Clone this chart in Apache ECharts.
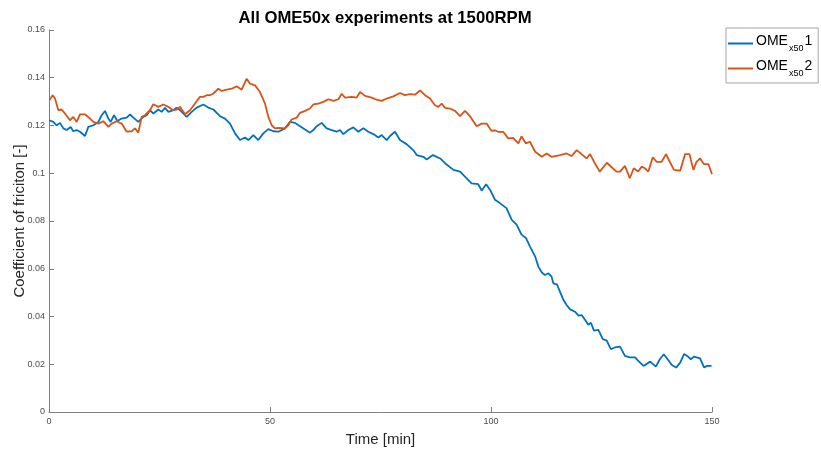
<!DOCTYPE html>
<html>
<head>
<meta charset="utf-8">
<script src="https://cdn.jsdelivr.net/npm/echarts@6/dist/echarts.min.js"></script>
<style>html,body{margin:0;padding:0;background:#fff}#c{width:821px;height:452px}</style>
</head>
<body>
<div id="c"></div>
<script>
const title = 'All OME50x experiments at 1500RPM';
const xName = 'Time [min]';
const yName = 'Coefficient of friciton [-]';
const seriesNames = ['OME1', 'OME2'];
const xTicks = [0, 50, 100, 150];
const yTicks = [0, 0.02, 0.04, 0.06, 0.08, 0.1, 0.12, 0.14, 0.16];

const time1 = [0.07,0.98,1.73,2.49,3.24,3.99,4.9,5.5,6.26,7.01,8.14,8.9,10.03,11.16,11.92,12.67,13.43,13.95,14.71,15.46,16.44,17.57,18.33,19.08,20.21,21.34,22.1,22.85,23.6,24.74,25.49,26.24,27.0,28.13,28.88,29.64,31.15,32.28,33.41,34.92,36.05,37.18,38.69,39.82,40.95,42.08,43.21,44.34,45.1,46.23,47.36,48.49,49.62,50.75,51.89,
53.39,54.52,55.66,56.79,57.92,59.05,59.8,60.56,61.69,62.82,63.95,65.08,65.84,66.59,67.72,68.85,69.98,71.12,72.25,73.38,74.51,75.26,76.4,77.15,78.28,79.41,
80.9,82.4,83.2,84.7,85.4,86.9,88.5,89.6,91.5,93.0,94.5,95.6,97.1,97.9,98.9,99.8,100.9,102.0,103.5,104.7,105.8,106.9,107.9,108.8,
110.0,110.7,111.5,112.2,113.0,113.7,114.1,114.9,115.6,116.4,117.1,117.9,119.0,119.8,120.5,121.3,122.0,122.6,123.3,124.3,125.3,126.2,127.1,128.1,129.2,130.3,131.4,132.6,133.1,134.5,136.0,137.3,138.2,139.1,140.1,140.9,141.9,142.8,143.7,144.4,145.2,145.9,147.3,148.2,148.9,149.9];
const cof1 = [0.1222,0.1215,0.1201,0.1211,0.1188,0.1181,0.1194,0.1176,0.1181,0.1174,0.1156,0.1194,0.1201,0.1215,0.1243,0.1261,0.1229,0.1215,0.1243,0.1219,0.1229,0.1233,0.1246,0.1233,0.1215,0.1236,0.1243,0.1264,0.125,0.1267,0.1257,0.1274,0.1257,0.1264,0.1275,0.1264,0.1236,0.1257,0.1275,0.1288,0.1275,0.1267,0.1239,0.1229,0.1208,0.1167,0.1139,0.115,0.1139,0.116,0.1139,0.1167,0.1185,0.1176,0.1174,
0.1188,0.1215,0.1211,0.1197,0.1183,0.117,0.1181,0.1197,0.1211,0.1188,0.1181,0.1174,0.1181,0.1164,0.1181,0.1192,0.1174,0.1188,0.1174,0.1164,0.115,0.116,0.1139,0.1156,0.1174,0.1139,
0.1122,0.1097,0.1076,0.1069,0.1058,0.1076,0.1062,0.1042,0.1014,0.1007,0.0979,0.0958,0.0954,0.0928,0.0954,0.093,0.0889,0.0875,0.0854,0.0805,0.0785,0.0743,0.0729,0.0694,
0.0651,0.0609,0.0584,0.0574,0.0581,0.0567,0.0539,0.0535,0.0504,0.0469,0.0448,0.043,0.042,0.0404,0.0406,0.0385,0.0365,0.0374,0.0341,0.0344,0.0305,0.0299,0.0263,0.0271,0.0274,0.0235,0.0229,0.0229,0.0218,0.0193,0.0211,0.019,0.0221,0.0242,0.0218,0.0197,0.0186,0.0207,0.0243,0.0235,0.0221,0.0232,0.0225,0.0187,0.0193,0.0193];

const time2 = [0.07,0.83,1.36,2.11,2.87,3.62,4.75,5.5,6.26,7.01,8.14,9.28,10.03,11.16,12.29,13.43,14.18,15.31,16.44,17.57,18.70,19.46,20.21,20.96,21.72,22.85,23.6,24.74,25.87,27.0,28.13,28.88,29.64,30.77,31.9,33.03,34.16,34.92,35.67,36.43,37.18,38.31,39.06,40.2,41.33,42.46,43.59,44.72,45.48,46.61,47.74,48.87,49.62,50.38,51.13,51.89,
53.4,54.15,54.9,56.03,56.79,57.92,59.05,59.8,60.94,62.07,63.2,64.33,65.46,66.22,66.97,68.48,69.61,70.37,71.5,73.0,74.13,75.27,76.4,77.9,79.41,80.54,81.67,82.8,83.94,85.07,86.2,87.33,88.08,88.84,89.59,90.72,91.86,92.99,94.12,95.25,96.76,97.9,
99.0,100.1,100.9,101.7,102.8,103.9,105.0,106.2,106.9,107.9,108.8,110.0,111.5,112.6,113.7,115.6,117.1,118.2,119.4,120.5,121.6,122.4,123.5,124.6,126.2,127.3,128.4,129.2,130.3,131.4,132.3,133.3,134.1,134.8,135.6,136.6,137.5,138.6,139.6,140.5,141.4,142.8,143.9,144.9,145.8,146.5,147.3,148.2,149.2,150.0];
const cof2 = [0.1306,0.1327,0.1313,0.1264,0.1267,0.125,0.1222,0.1236,0.1215,0.1247,0.1247,0.1229,0.1215,0.1208,0.1218,0.1194,0.1208,0.1218,0.1208,0.1174,0.1176,0.1188,0.117,0.1236,0.1243,0.1264,0.1289,0.1278,0.1288,0.1278,0.1264,0.1267,0.1278,0.1247,0.1264,0.1292,0.132,0.132,0.1327,0.1327,0.1334,0.1354,0.1345,0.135,0.1354,0.1364,0.135,0.1396,0.1375,0.1368,0.134,0.1292,0.1236,0.1201,0.1188,0.119,
0.1188,0.1201,0.1225,0.1233,0.1253,0.1261,0.1271,0.1288,0.1292,0.1299,0.131,0.1303,0.131,0.1333,0.1317,0.132,0.1317,0.134,0.1324,0.1317,0.1308,0.1303,0.1313,0.1322,0.1336,0.1327,0.1331,0.1329,0.1347,0.1327,0.1313,0.1285,0.1278,0.1292,0.1274,0.1271,0.1261,0.1239,0.1261,0.1239,0.1197,0.1208,
0.1208,0.1178,0.118,0.1173,0.1173,0.1146,0.1148,0.1125,0.1155,0.1125,0.1132,0.109,0.1069,0.1083,0.1069,0.1076,0.1083,0.1072,0.1097,0.108,0.1062,0.108,0.1042,0.1007,0.1044,0.1025,0.1007,0.1007,0.1031,0.0979,0.1021,0.1007,0.1028,0.1021,0.1007,0.1067,0.1048,0.1048,0.108,0.1046,0.1014,0.1011,0.108,0.108,0.1014,0.1048,0.1062,0.1038,0.1038,0.0996];

const colors = ['#0072BD', '#D95319'];
const FONT = '"Liberation Sans", Arial, Helvetica, sans-serif';

function zip(t, v) { return t.map((x, i) => [x, v[i]]); }

const chart = echarts.init(document.getElementById('c'), null, {renderer: 'canvas'});
const axisLineStyle = {color: '#808080', width: 1};
chart.setOption({
  animation: false,
  backgroundColor: '#fff',
  color: colors,
  title: {
    text: title, left: 380, top: 5, textAlign: 'center',
    textStyle: {fontFamily: FONT, fontSize: 16.7, fontWeight: 'bold', color: '#000'}
  },
  legend: {
    orient: 'vertical', left: 726, top: 28,
    data: seriesNames.map(n => ({name: n, icon: 'rect'})),
    itemWidth: 25, itemHeight: 2, itemGap: 6,
    padding: [6, 6, 5, 2],
    borderColor: '#a6a6a6', borderWidth: 1, backgroundColor: '#fff',
    formatter: function (name) { return '{a|OME}{s|x50}{a|' + name.slice(3) + '}'; },
    textStyle: {
      fontFamily: FONT, color: '#000', padding: [0, 0, 0, -2],
      rich: {
        a: {fontFamily: FONT, fontSize: 14, color: '#000', verticalAlign: 'bottom', padding: [0, 0, 5, 0]},
        s: {fontFamily: FONT, fontSize: 9, color: '#000', verticalAlign: 'bottom', padding: [0, 1, 0, 1]}
      }
    }
  },
  grid: {left: 49, right: 109, top: 30, bottom: 40, containLabel: false, outerBoundsMode: 'none'},
  xAxis: {
    type: 'value', min: xTicks[0], max: xTicks[xTicks.length - 1], interval: 50,
    name: xName, nameLocation: 'middle', nameGap: 20, nameMoveOverlap: false,
    nameTextStyle: {fontFamily: FONT, fontSize: 15, color: '#262626'},
    axisLine: {show: true, lineStyle: axisLineStyle},
    axisTick: {show: true, inside: true, length: 5, lineStyle: axisLineStyle},
    axisLabel: {fontFamily: FONT, fontSize: 9, color: '#4d4d4d', margin: 5},
    splitLine: {show: false}
  },
  yAxis: {
    type: 'value', min: yTicks[0], max: yTicks[yTicks.length - 1], interval: 0.02,
    name: yName, nameLocation: 'middle', nameGap: 22, nameMoveOverlap: false,
    nameTextStyle: {fontFamily: FONT, fontSize: 15, color: '#262626'},
    axisLine: {show: true, lineStyle: axisLineStyle},
    axisTick: {show: true, inside: true, length: 5, lineStyle: axisLineStyle},
    axisLabel: {fontFamily: FONT, fontSize: 9, color: '#4d4d4d', margin: 4},
    splitLine: {show: false}
  },
  series: [
    {name: seriesNames[0], type: 'line', data: zip(time1, cof1), symbol: 'none', showSymbol: false,
     lineStyle: {width: 1.8, color: colors[0]}, itemStyle: {color: colors[0]}},
    {name: seriesNames[1], type: 'line', data: zip(time2, cof2), symbol: 'none', showSymbol: false,
     lineStyle: {width: 1.8, color: colors[1]}, itemStyle: {color: colors[1]}}
  ]
});
</script>
</body>
</html>
